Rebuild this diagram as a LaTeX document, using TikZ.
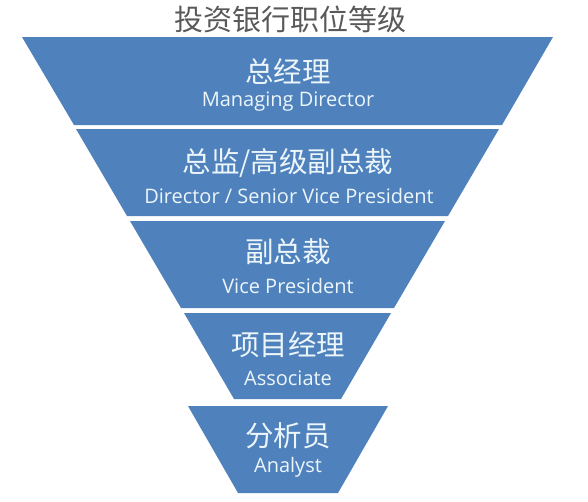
\documentclass[tikz,border=0pt]{standalone}
\usepackage{fontspec}
\setmainfont{Noto Sans CJK SC}
\newfontfamily\latinfont{Open Sans}
\usetikzlibrary{positioning}
\definecolor{bandblue}{RGB}{79,129,189}
\definecolor{bandtext}{RGB}{236,246,250}
\definecolor{headgray}{RGB}{89,89,89}

\begin{document}
\begin{tikzpicture}[
    % pixel-like units, y going down
    x=1pt, y=-1pt,
    band/.style={fill=bandblue},
    cn/.style={text=bandtext, font=\fontsize{28.5}{30}\selectfont, inner sep=0pt},
    en/.style={text=bandtext, font=\latinfont\fontsize{20}{22}\selectfont, inner sep=0pt},
    head/.style={text=headgray, font=\fontsize{29}{31}\selectfont, inner sep=0pt}
]
    \useasboundingbox (0,0) rectangle (588,501);

    % --- Title ---
    \node[head] (title) at (290,19) {投资银行职位等级};

    % --- Funnel bands (top to bottom) ---
    \fill[band] (22,37) -- (553,37) -- (502,125) -- (74,125) -- cycle;
    \fill[band] (76,129) -- (499,129) -- (448,216) -- (127,216) -- cycle;
    \fill[band] (130,221) -- (445,221) -- (394,308) -- (181,308) -- cycle;
    \fill[band] (184,313) -- (391,313) -- (341,399) -- (234,399) -- cycle;
    \fill[band] (188,406) -- (388,406) -- (338,493) -- (238,493) -- cycle;

    % --- Labels ---
    \node[cn] (md) at (288,72) {总经理};
    \node[en] (md_en) at (288,102) {Managing Director};
    \node[cn] (svp) at (288,163) {总监/高级副总裁};
    \node[en] (svp_en) at (289,196) {Director / Senior Vice President};
    \node[cn] (vp) at (288,252) {副总裁};
    \node[en] (vp_en) at (288,286) {Vice President};
    \node[cn] (asso) at (288,345) {项目经理};
    \node[en] (asso_en) at (288,378) {Associate};
    \node[cn] (ana) at (288,436) {分析员};
    \node[en] (ana_en) at (288,467) {Analyst};
\end{tikzpicture}
\end{document}
